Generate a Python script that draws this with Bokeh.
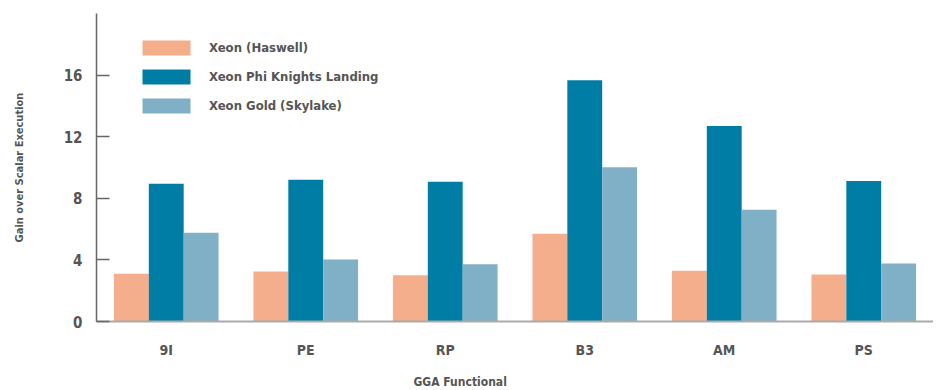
from bokeh.plotting import figure
from bokeh.models import ColumnDataSource, FactorRange, Legend, LegendItem, Title, Range1d, FixedTicker
from bokeh.transform import dodge
from bokeh.embed import file_html
from bokeh.resources import INLINE

categories = ["9I", "PE", "RP", "B3", "AM", "PS"]
haswell = [3.1, 3.25, 3.0, 5.7, 3.3, 3.05]
knights_landing = [8.95, 9.2, 9.07, 15.67, 12.7, 9.13]
skylake = [5.77, 4.02, 3.72, 10.02, 7.25, 3.77]
series_names = ["Xeon (Haswell)", "Xeon Phi Knights Landing", "Xeon Gold (Skylake)"]
y_ticks = [0, 4, 8, 12, 16]

colors = ["#F5AE8B", "#007DA5", "#7FB0C5"]
FONT = "DejaVu Sans Condensed"
TXT = "#555555"

src = ColumnDataSource(dict(cat=categories, h=haswell, k=knights_landing, s=skylake))

p = figure(x_range=FactorRange(factors=categories), y_range=Range1d(0, 20),
           frame_width=837, frame_height=308,
           output_backend="svg", toolbar_location=None,
           min_border_left=96, min_border_right=0, min_border_top=13, min_border_bottom=0)

r1 = p.vbar(x=dodge("cat", -0.25, range=p.x_range), top="h", width=0.25, source=src,
            fill_color=colors[0], line_color=None)
r2 = p.vbar(x=dodge("cat", 0.0, range=p.x_range), top="k", width=0.25, source=src,
            fill_color=colors[1], line_color=None)
r3 = p.vbar(x=dodge("cat", 0.25, range=p.x_range), top="s", width=0.25, source=src,
            fill_color=colors[2], line_color=None)

legend = Legend(items=[LegendItem(label=series_names[0], renderers=[r1]),
                       LegendItem(label=series_names[1], renderers=[r2]),
                       LegendItem(label=series_names[2], renderers=[r3])],
                location=(40, 206), padding=0, margin=0, spacing=10,
                glyph_width=60, glyph_height=19, label_height=15, label_standoff=13,
                border_line_color=None, background_fill_alpha=0,
                label_text_font=FONT, label_text_font_style="bold",
                label_text_font_size="13px", label_text_color=TXT)
p.add_layout(legend, "center")

p.xgrid.visible = False
p.ygrid.visible = False
p.outline_line_color = None

# y axis
ya = p.yaxis[0]
ya.ticker = FixedTicker(ticks=y_ticks)
ya.minor_tick_line_color = None
ya.major_tick_in = 13
ya.major_tick_out = 0
ya.major_tick_line_color = "#666666"
ya.major_tick_line_width = 1.5
ya.axis_line_color = "#666666"
ya.axis_line_width = 1.5
ya.major_label_standoff = 14
ya.major_label_text_font = FONT
ya.major_label_text_font_style = "bold"
ya.major_label_text_font_size = "15px"
ya.major_label_text_color = TXT
ya.axis_label = "Gain over Scalar Execution"
ya.axis_label_text_font = FONT
ya.axis_label_text_font_style = "bold"
ya.axis_label_text_font_size = "11px"
ya.axis_label_text_color = TXT
ya.axis_label_standoff = 35

# x axis
xa = p.xaxis[0]
xa.major_tick_line_color = None
xa.minor_tick_line_color = None
xa.axis_line_color = "#AAAAAA"
xa.axis_line_width = 2
xa.major_label_standoff = 14
xa.major_label_text_font = FONT
xa.major_label_text_font_style = "bold"
xa.major_label_text_font_size = "14px"
xa.major_label_text_color = TXT

# small spacer between the tick labels and the x title
p.add_layout(Title(text=" ", text_font_size="9px", standoff=0), "below")
p.add_layout(Title(text="GGA Functional", align="left", offset=317, standoff=0,
                   text_font=FONT, text_font_style="bold", text_font_size="12px",
                   text_color=TXT), "below")

open("out.html", "w").write(file_html(p, INLINE))
